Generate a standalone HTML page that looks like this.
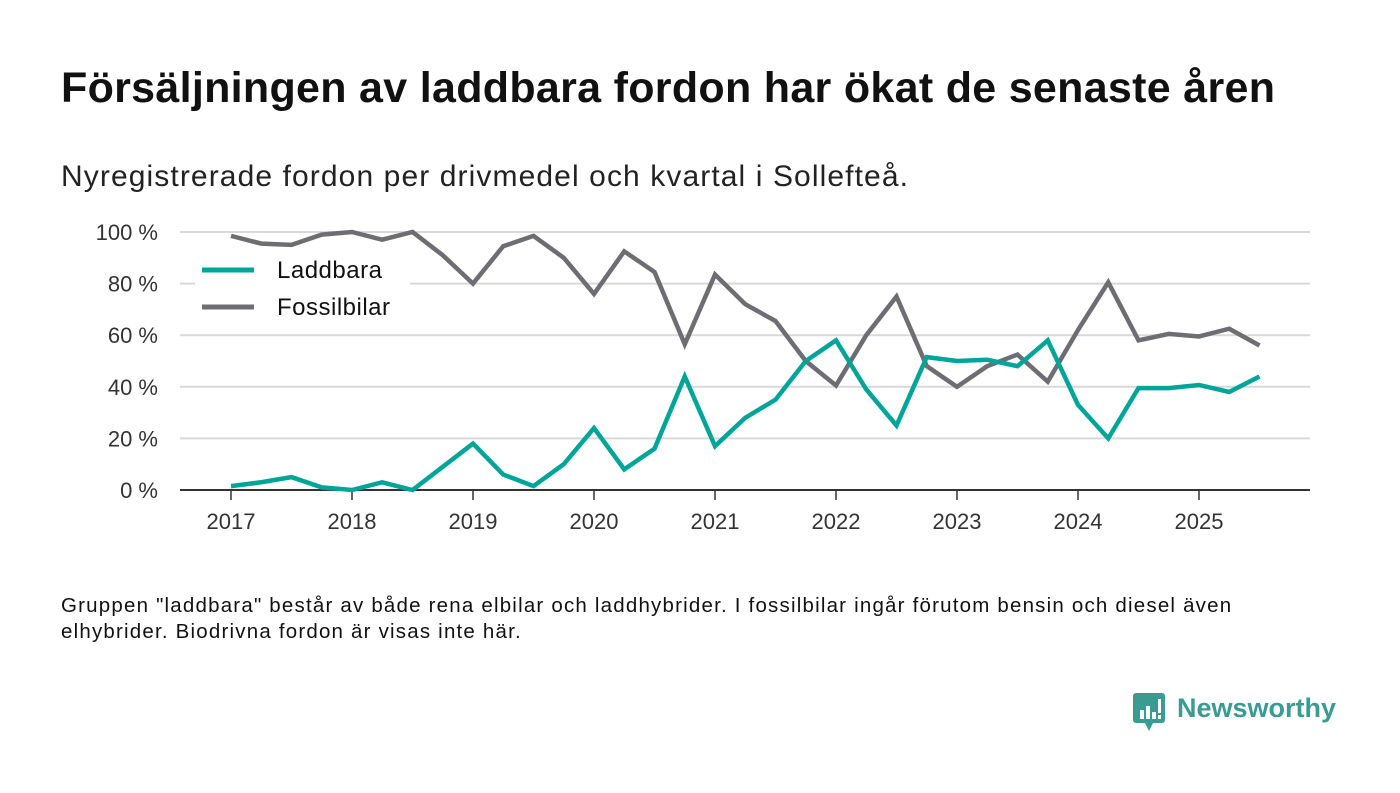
<!DOCTYPE html>
<html><head><meta charset="utf-8"><style>
body{margin:0;background:#fff;width:1400px;height:793px;overflow:hidden;font-family:"Liberation Sans","DejaVu Sans",sans-serif;color:#111}
.t{position:absolute;left:61px;top:64px;font-size:43px;font-weight:bold;margin:0;letter-spacing:0.3px;white-space:nowrap}
.s{position:absolute;left:61px;top:160px;font-size:30px;color:#222;letter-spacing:1.1px;white-space:nowrap}
.n{position:absolute;left:61px;top:593px;font-size:20.5px;line-height:26px;color:#111;letter-spacing:1.2px;white-space:nowrap}
svg{position:absolute;left:0;top:0}
</style></head><body>
<h1 class="t">Försäljningen av laddbara fordon har ökat de senaste åren</h1>
<div class="s">Nyregistrerade fordon per drivmedel och kvartal i Sollefteå.</div>
<div class="n">Gruppen "laddbara" består av både rena elbilar och laddhybrider. I fossilbilar ingår förutom bensin och diesel även<br>elhybrider. Biodrivna fordon är visas inte här.</div>
<svg id="c" width="1400" height="793"></svg>
<div style="position:absolute;left:1133px;top:693px;">
<svg width="34" height="42" style="position:absolute;left:0;top:0"><path d="M3 0h26a3 3 0 0 1 3 3v24a3 3 0 0 1-3 3H20l-4 8-4-8H3a3 3 0 0 1-3-3V3a3 3 0 0 1 3-3z" fill="#3a9b93"/><rect x="7" y="17" width="4" height="9" fill="#fff"/><rect x="13" y="13" width="4" height="13" fill="#fff"/><rect x="19" y="19" width="4" height="7" fill="#fff"/><rect x="25" y="6" width="3" height="14" fill="#fff"/><rect x="25" y="22" width="3" height="4" fill="#fff"/></svg>
<span style="position:absolute;left:44px;top:0px;font-size:27px;font-weight:bold;color:#3a9b93;white-space:nowrap">Newsworthy</span></div>
<script>
const years=['2017','2018','2019','2020','2021','2022','2023','2024','2025'];
const yTicks=[0,20,40,60,80,100];
const laddbara=[1.5,3,5,1,0,3,0,9,18,6,1.5,10,24,8,16,44,17,28,35,50,58,39,25,51.5,50,50.5,48,58,33,20,39.5,39.5,40.7,38,44];
const fossil=[98.5,95.5,95,99,100,97,100,91,80,94.5,98.5,90,76,92.5,84.5,56.5,83.5,72,65.5,50,40.5,60,75,48,40,48,52.5,42,62,80.5,58,60.5,59.5,62.5,56];
const svg=document.getElementById('c'),NS='http://www.w3.org/2000/svg';
const x=q=>231+q*30.25, y=v=>490-v*2.58;
function el(t,a){const e=document.createElementNS(NS,t);for(const k in a)e.setAttribute(k,a[k]);svg.appendChild(e);return e;}
yTicks.forEach(v=>{
 if(v>0){const g=el('line',{x1:180,x2:1310,y1:y(v),y2:y(v),stroke:'#d9d9d9','stroke-width':2});}
 const t=el('text',{x:158,y:y(v)+8,'text-anchor':'end','font-size':22,fill:'#333'});t.textContent=v+' %';
 
});
const ax=el('line',{x1:180,x2:1310,y1:490,y2:490,stroke:'#333','stroke-width':2});

years.forEach((yr,i)=>{
 const xx=x(i*4);
 const tk=el('line',{x1:xx,x2:xx,y1:490,y2:500,stroke:'#333','stroke-width':1.5});
 
 const t=el('text',{x:xx,y:529,'text-anchor':'middle','font-size':22,fill:'#333'});t.textContent=yr;
 
});
function line(d,c,n){const p=el('polyline',{points:d.map((v,i)=>x(i)+','+y(v)).join(' '),fill:'none',stroke:c,'stroke-width':4.5,'stroke-linejoin':'miter'});
 }
line(fossil,'#6e6d73','fossilbilar-line');
line(laddbara,'#00a59a','laddbara-line');
const bg=el('rect',{x:195,y:252,width:215,height:74,fill:'#fff'});

[['Laddbara','#00a59a',270],['Fossilbilar','#6e6d73',307]].forEach(([n,c,yy])=>{
 const l=el('line',{x1:202,x2:254,y1:yy,y2:yy,stroke:c,'stroke-width':5});
 
 const t=el('text',{x:277,y:yy+8,'font-size':24,fill:'#111','letter-spacing':0.5});t.textContent=n;
 
});
</script>
</body></html>
